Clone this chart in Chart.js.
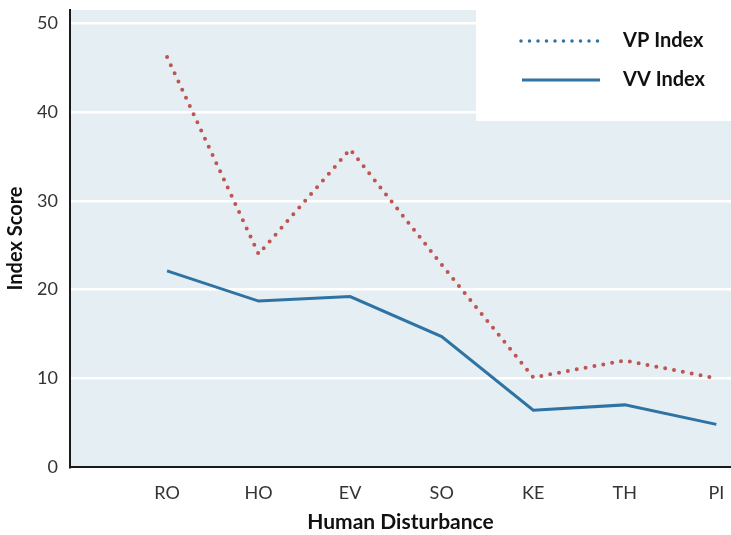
<!DOCTYPE html>
<html>
<head>
<meta charset="utf-8">
<script src="https://cdn.jsdelivr.net/npm/chart.js@4.4.0/dist/chart.umd.min.js"></script>
<style>
  html, body { margin: 0; padding: 0; background: #ffffff; }
  #wrap { width: 731px; height: 535px; }
</style>
</head>
<body>
<div id="wrap"><canvas id="lineChart" width="731" height="535"></canvas></div>
<script>
// Data
var categories = ['RO', 'HO', 'EV', 'SO', 'KE', 'TH', 'PI'];
var vpIndex = [46.2, 24.0, 35.8, 22.8, 10.1, 12.0, 10.0];
var vvIndex = [22.1, 18.7, 19.2, 14.7, 6.4, 7.0, 4.8];
var yTicks = [0, 10, 20, 30, 40, 50];

var FONT = "Lato, 'Open Sans', sans-serif";

function toPoints(values) {
    var pts = [];
    for (var i = 0; i < values.length; i++) {
        pts.push({x: i + 1, y: values[i]});
    }
    return pts;
}

// light blue plot background
var plotBackground = {
    id: 'plotBackground',
    beforeDraw: function (chart) {
        var c = chart.ctx, a = chart.chartArea;
        c.save();
        c.fillStyle = '#e4eef3';
        c.fillRect(a.left, a.top, a.right - a.left, a.bottom - a.top);
        c.restore();
    }
};

// white legend box in the top right corner
var cornerLegend = {
    id: 'cornerLegend',
    afterDraw: function (chart) {
        var c = chart.ctx;
        var sets = chart.data.datasets;
        c.save();
        c.fillStyle = '#ffffff';
        c.fillRect(476, 0, 255, 121);
        c.font = 'bold 20px ' + FONT;
        c.textBaseline = 'middle';
        c.textAlign = 'left';
        for (var i = 0; i < sets.length; i++) {
            var y = 41 + i * 39;
            c.beginPath();
            c.strokeStyle = '#2e73a3';
            c.lineWidth = sets[i].legendDash ? 3.5 : 3;
            c.lineCap = sets[i].legendDash ? 'round' : 'butt';
            c.setLineDash(sets[i].legendDash || []);
            c.moveTo(sets[i].legendDash ? 521 : 522, y);
            c.lineTo(600, y);
            c.stroke();
            c.setLineDash([]);
            c.fillStyle = '#111111';
            c.fillText(sets[i].label, 623, y);
        }
        c.restore();
    }
};

function noEdgePadding(scale) {
    scale.paddingLeft = 0;
    scale.paddingRight = 0;
    scale.paddingTop = 0;
    scale.paddingBottom = 0;
}

var ctx = document.getElementById('lineChart').getContext('2d');
var lineChart = new Chart(ctx, {
    type: 'line',
    data: {
        datasets: [{
            label: 'VP Index',
            data: toPoints(vpIndex),
            borderColor: '#bf5450',
            borderWidth: 4,
            borderDash: [0, 9],
            borderCapStyle: 'round',
            legendDash: [0, 8.5],
            pointRadius: 0,
            tension: 0,
            fill: false
        }, {
            label: 'VV Index',
            data: toPoints(vvIndex),
            borderColor: '#2e73a3',
            borderWidth: 3,
            pointRadius: 0,
            tension: 0,
            fill: false
        }]
    },
    options: {
        responsive: false,
        animation: false,
        layout: {padding: {top: 10, right: 0, left: 0, bottom: 0}},
        plugins: {
            legend: {display: false},
            tooltip: {enabled: false}
        },
        scales: {
            x: {
                type: 'linear',
                min: -0.06,
                max: 7.16,
                afterBuildTicks: function (scale) {
                    scale.ticks = categories.map(function (c, i) { return {value: i + 1}; });
                },
                afterFit: function (scale) { scale.height = 68; noEdgePadding(scale); },
                grid: {display: false, drawTicks: false},
                border: {display: true, color: '#1a1a1a', width: 2},
                ticks: {
                    autoSkip: false,
                    maxRotation: 0,
                    padding: 15,
                    color: '#333333',
                    font: {family: FONT, size: 18},
                    callback: function (v) { return categories[v - 1]; }
                },
                title: {
                    display: true,
                    text: 'Human Disturbance',
                    color: '#111111',
                    font: {family: FONT, size: 21, weight: 'bold'},
                    padding: {top: 3, bottom: 0}
                }
            },
            y: {
                min: 0,
                max: 51.5,
                afterBuildTicks: function (scale) {
                    scale.ticks = yTicks.map(function (v) { return {value: v}; });
                },
                afterFit: function (scale) { scale.width = 70; noEdgePadding(scale); },
                grid: {color: '#ffffff', lineWidth: 2.5, drawTicks: false},
                border: {display: true, color: '#1a1a1a', width: 2},
                ticks: {
                    padding: 12,
                    color: '#333333',
                    font: {family: FONT, size: 18}
                },
                title: {
                    display: true,
                    text: 'Index Score',
                    color: '#111111',
                    font: {family: FONT, size: 20, weight: 'bold'},
                    padding: {top: 4, bottom: 4}
                }
            }
        }
    },
    plugins: [plotBackground, cornerLegend]
});
</script>
</body>
</html>
